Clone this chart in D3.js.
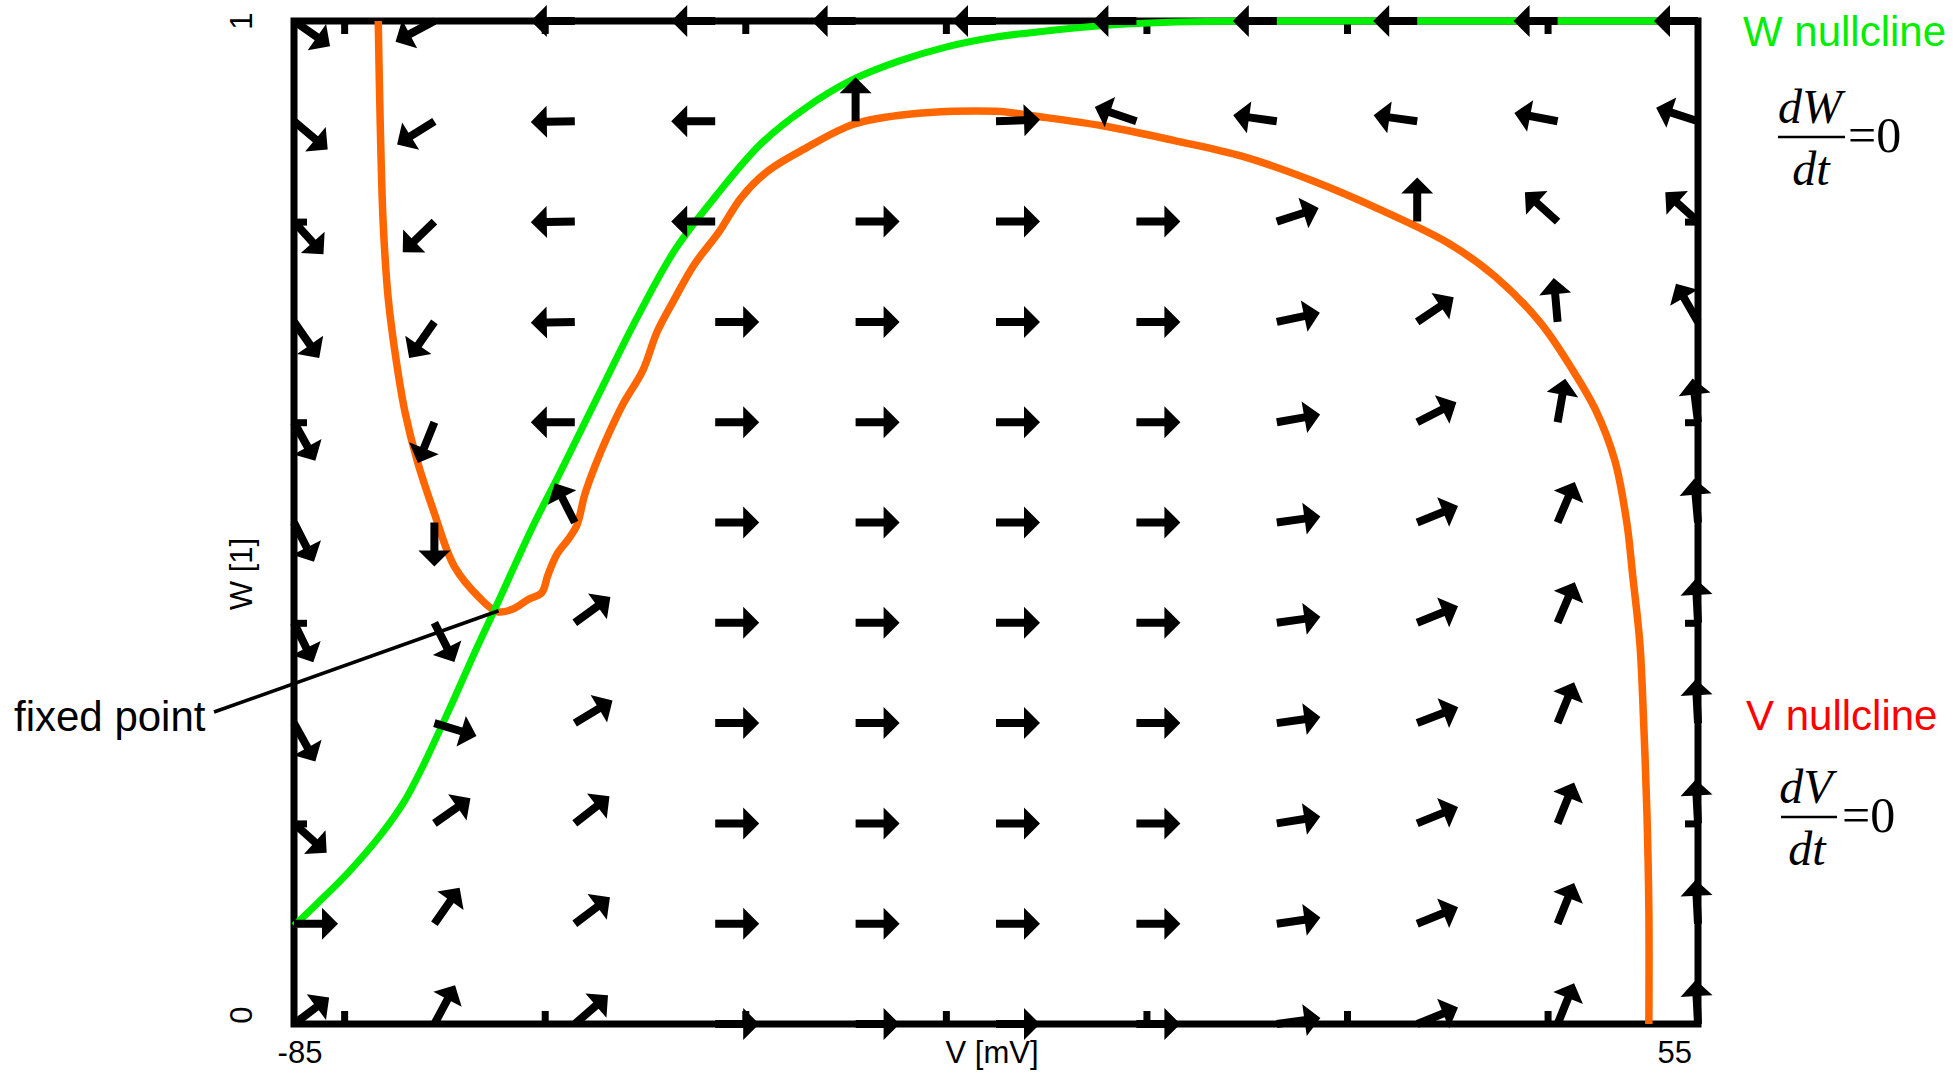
<!DOCTYPE html>
<html>
<head>
<meta charset="utf-8">
<script src="https://cdn.jsdelivr.net/npm/d3@7"></script>
<style>
  body { margin: 0; background: #fff; }
  svg { display: block; }
</style>
</head>
<body>
<div></div>
<script>
// grid of the direction field
const vGrid = [-85, -71, -57, -43, -29, -15, -1, 13, 27, 41, 55];
const wGrid = [1, 0.9, 0.8, 0.7, 0.6, 0.5, 0.4, 0.3, 0.2, 0.1, 0];

// arrow direction in degrees (0 = +V, 90 = +W), one row per W value, columns follow vGrid
const dirW10 = [-35, 208, 180, 180, 180, 180, 180, 180, 180, 180, 180];
const dirW09 = [-40, 212, 181, 180, 90, 2, 161, 172, 172, 169, 162];
const dirW08 = [-48, 224, 181, 180, 0, 0, 0, 18, 90, 138, 138];
const dirW07 = [-55, 235, 181, 0, 0, 0, 0, 12, 34, 95, 120];
const dirW06 = [-61, 248, 180, 0, 0, 0, 0, 10, 27, 80, 97];
const dirW05 = [-63, 270, 117, 0, 0, 0, 0, 8, 22, 67, 95];
const dirW04 = [-64, -63, 36, 0, 0, 0, 0, 8, 22, 67, 93];
const dirW03 = [-61, -17, 31, 0, 0, 0, 0, 8, 21, 68, 93];
const dirW02 = [-42, 35, 38, 0, 0, 0, 0, 9, 22, 68, 93];
const dirW01 = [0, 55, 37, 0, 0, 0, 0, 8, 22, 68, 93];
const dirW00 = [37, 62, 41, 0, 0, 0, 0, 8, 22, 68, 93];

// W nullcline (dW/dt = 0)
const wNullV = [-85, -82.6, -79.5, -76.4, -74, -72.2, -70.6, -69, -67, -65, -63, -61, -58.6, -54.6, -50.8, -47, -42.9, -38.4, -33.9, -29.4, -24.7, -20, -15, -10, -6, -2, 3, 10, 20, 30, 40, 55];
const wNullW = [0.098, 0.121, 0.152, 0.188, 0.222, 0.256, 0.29, 0.325, 0.37, 0.413, 0.457, 0.5, 0.547, 0.628, 0.704, 0.772, 0.826, 0.878, 0.914, 0.941, 0.96, 0.974, 0.984, 0.99, 0.994, 0.997, 0.999, 1, 1, 1, 1, 1];

// V nullcline (dV/dt = 0)
const vNullV = [-76.6, -76.4, -76.1, -75.6, -74.8, -73.95, -72.7, -71.1, -69, -66.5, -64.7, -63.1, -61.7, -60.3, -59.7, -58.8, -57.6, -56.8, -56, -55, -53.6, -52.2, -50.2, -48.8, -47.1, -45.1, -42.6, -40.4, -37.8, -34, -29.2, -23.7, -15, -11, -4.1, 2.7, 9.6, 16.5, 23.3, 30.2, 34.8, 39.3, 42.5, 44.8, 46.7, 47.9, 48.5, 49.2, 49.6, 49.9, 50.1, 50.1];
const vNullW = [1, 0.897, 0.797, 0.723, 0.661, 0.611, 0.561, 0.512, 0.456, 0.425, 0.411, 0.414, 0.423, 0.43, 0.447, 0.468, 0.484, 0.497, 0.528, 0.556, 0.589, 0.618, 0.652, 0.69, 0.722, 0.757, 0.79, 0.824, 0.85, 0.873, 0.897, 0.907, 0.91, 0.905, 0.895, 0.881, 0.865, 0.841, 0.812, 0.778, 0.745, 0.699, 0.652, 0.612, 0.562, 0.5, 0.446, 0.38, 0.296, 0.213, 0.114, 0];

// ticks and labels
const vTicks = [-80, -60, -40, -20, 0, 20, 40];
const wTicks = [0.2, 0.4, 0.6, 0.8];
const vDomain = [-85, 55];
const wDomain = [0, 1];
const fixedPoint = [-64.6, 0.412];

const svgWidth = 1953,
    svgHeight = 1073,
    plotLeft = 294,
    plotRight = 1698,
    plotTop = 21,
    plotBottom = 1024;

const svg = d3.select('body')
                .select('div')
                .append('svg')
                .attr('width', svgWidth)
                .attr('height', svgHeight);

const xScale = d3.scaleLinear()
                .domain(vDomain)
                .range([plotLeft, plotRight]);

const yScale = d3.scaleLinear()
                .domain(wDomain)
                .range([plotBottom, plotTop]);

// frame
svg.append('rect')
    .attr('x', plotLeft)
    .attr('y', plotTop)
    .attr('width', plotRight - plotLeft)
    .attr('height', plotBottom - plotTop)
    .attr('fill', 'none')
    .attr('stroke', '#000')
    .attr('stroke-width', 7);

// inward ticks on all four sides, no labels
const axes = [
    [d3.axisBottom(xScale).tickValues(vTicks), `translate(0, ${plotBottom})`],
    [d3.axisTop(xScale).tickValues(vTicks), `translate(0, ${plotTop})`],
    [d3.axisLeft(yScale).tickValues(wTicks), `translate(${plotLeft}, 0)`],
    [d3.axisRight(yScale).tickValues(wTicks), `translate(${plotRight}, 0)`]
];
axes.forEach(([axis, tr]) => {
    const g = svg.append('g')
        .attr('transform', tr)
        .call(axis.tickSize(-13).tickFormat(''));
    g.select('.domain').remove();
    g.selectAll('line')
        .attr('stroke', '#000')
        .attr('stroke-width', 7);
});

const line = d3.line()
                .x(d => xScale(d[0]))
                .y(d => yScale(d[1]))
                .curve(d3.curveCatmullRom.alpha(0.5));

svg.append('path')
    .attr('d', line(vNullV.map((v, i) => [v, vNullW[i]])))
    .attr('fill', 'none')
    .attr('stroke', '#ff6600')
    .attr('stroke-width', 7.5)
    .attr('stroke-linejoin', 'round');

svg.append('path')
    .attr('d', line(wNullV.map((v, i) => [v, wNullW[i]])))
    .attr('fill', 'none')
    .attr('stroke', '#00ee00')
    .attr('stroke-width', 7);

// direction field
const fieldDirs = [dirW10, dirW09, dirW08, dirW07, dirW06, dirW05, dirW04, dirW03, dirW02, dirW01, dirW00];
const arrows = fieldDirs.flatMap((row, r) => row.map((a, c) => ({v: vGrid[c], w: wGrid[r], angle: a})));

const arrowLen = 44, headLen = 16, headHalf = 16, shaftHalf = 4;
const arrowShape = [
    [0, -shaftHalf], [arrowLen - headLen, -shaftHalf], [arrowLen - headLen, -headHalf],
    [arrowLen, 0], [arrowLen - headLen, headHalf], [arrowLen - headLen, shaftHalf], [0, shaftHalf]
];

svg.append('g')
    .selectAll('path')
    .data(arrows)
    .enter()
    .append('path')
    .attr('d', 'M' + arrowShape.map(p => p.join(',')).join('L') + 'Z')
    .attr('transform', d => `translate(${xScale(d.v)}, ${yScale(d.w)}) rotate(${-d.angle})`)
    .attr('fill', '#000');

// fixed point annotation
svg.append('line')
    .attr('x1', 214)
    .attr('y1', 712)
    .attr('x2', xScale(fixedPoint[0]))
    .attr('y2', yScale(fixedPoint[1]))
    .attr('stroke', '#000')
    .attr('stroke-width', 3.5);

const sans = 'Liberation Sans, Arial, sans-serif';
svg.append('text')
    .attr('x', 14)
    .attr('y', 731)
    .style('font-family', sans)
    .style('font-size', '42px')
    .text('fixed point');

// axis labels
svg.append('text')
    .attr('x', 300)
    .attr('y', 1063)
    .attr('text-anchor', 'middle')
    .style('font-family', sans)
    .style('font-size', '31px')
    .text('-85');

svg.append('text')
    .attr('x', 1692)
    .attr('y', 1063)
    .attr('text-anchor', 'end')
    .style('font-family', sans)
    .style('font-size', '31px')
    .text('55');

svg.append('text')
    .attr('x', (plotLeft + plotRight) / 2 - 4)
    .attr('y', 1063)
    .attr('text-anchor', 'middle')
    .style('font-family', sans)
    .style('font-size', '31px')
    .text('V [mV]');

[['1', 21], ['0', 1015], ['W [1]', 574]].forEach(([t, yy]) => {
    svg.append('text')
        .attr('transform', `translate(252, ${yy}) rotate(-90)`)
        .attr('text-anchor', 'middle')
        .style('font-family', sans)
        .style('font-size', '31px')
        .text(t);
});

// legend labels with fractions
svg.append('text')
    .attr('x', 1743)
    .attr('y', 46)
    .attr('fill', '#00ee00')
    .style('font-family', sans)
    .style('font-size', '42px')
    .text('W nullcline');

svg.append('text')
    .attr('x', 1746)
    .attr('y', 730)
    .attr('fill', '#ff0000')
    .style('font-family', sans)
    .style('font-size', '42px')
    .text('V nullcline');

const serif = 'Liberation Serif, Times New Roman, serif';
const fraction = (num, cx, top, barX1, barX2, barY, eqX, eqY) => {
    svg.append('text')
        .attr('x', cx)
        .attr('y', top)
        .attr('text-anchor', 'middle')
        .style('font-family', serif)
        .style('font-style', 'italic')
        .style('font-size', '48px')
        .text(num);
    svg.append('line')
        .attr('x1', barX1)
        .attr('x2', barX2)
        .attr('y1', barY)
        .attr('y2', barY)
        .attr('stroke', '#000')
        .attr('stroke-width', 2.5);
    svg.append('text')
        .attr('x', cx + 1)
        .attr('y', barY + 48)
        .attr('text-anchor', 'middle')
        .style('font-family', serif)
        .style('font-style', 'italic')
        .style('font-size', '48px')
        .text('dt');
    svg.append('text')
        .attr('x', eqX)
        .attr('y', eqY)
        .style('font-family', serif)
        .style('font-size', '50px')
        .text('=0');
};

fraction('dW', 1810, 123, 1778, 1845, 137, 1848, 152);
fraction('dV', 1806, 803, 1781, 1837, 817, 1842, 832);
</script>
</body>
</html>
